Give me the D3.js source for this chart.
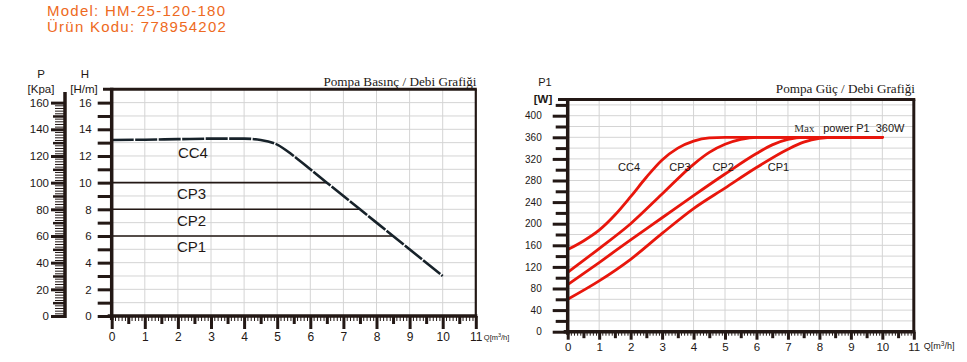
<!DOCTYPE html>
<html>
<head>
<meta charset="utf-8">
<script src="https://cdn.jsdelivr.net/npm/d3@7"></script>
<style>
  body { margin: 0; background: #fff; }
  svg { display: block; font-family: "Liberation Sans", Arial, sans-serif; }
</style>
</head>
<body>
<svg id="chart"></svg>
<script>
// ---- data ----
const qTicks = d3.range(0, 12);                 // Q [m3/h]
const headTicks = d3.range(0, 17);              // H [m]
const kpaTicks = d3.range(0, 161, 20);          // P [kPa]
const wattTicks = d3.range(0, 401, 40);         // P1 [W]

// head curve CC4 [Q, H]
const cc4Head = [[0, 13.2], [1, 13.22], [2, 13.26], [3, 13.3], [4, 13.3], [4.5, 13.2],
  [5, 12.85], [5.5, 12.0], [6, 11.0], [6.5, 10], [7.5, 8], [8.5, 6], [10, 3]];
// constant pressure modes: head and flow where they meet CC4
const cpNames = ["CP3", "CP2", "CP1"];
const cpHead = [10, 8, 6];
const cpFlowEnd = [6.5, 7.5, 8.5];

// power curves [Q, W]
const powerNames = ["CC4", "CP3", "CP2", "CP1"];
const powerCurves = [
  [[0, 152], [0.5, 168], [1, 188], [1.5, 216], [2, 250], [2.5, 286], [3, 318], [3.5, 340],
   [4, 353], [4.5, 359], [5, 360], [10, 360]],
  [[0, 110], [1, 154], [2, 200], [3, 255], [4, 310], [4.5, 332], [5, 347], [5.5, 356],
   [6, 360], [10, 360]],
  [[0, 87], [1, 128], [2, 170], [3, 211], [4, 252], [5, 292], [6, 330], [6.5, 346],
   [7, 356], [7.5, 360], [10, 360]],
  [[0, 60], [1, 94], [2, 134], [3, 182], [4, 228], [5, 266], [6, 304], [7, 338],
   [7.5, 351], [8, 358], [8.5, 360], [10, 360]]
];
const maxPower = 360;

// ---- layout ----
const width = 967, height = 362;
const ink = "#231815", grid = "#d4d4d4", red = "#e8160c";

const svg = d3.select("#chart").attr("width", width).attr("height", height);

// header
svg.append("text").attr("x", 47).attr("y", 15.5).attr("fill", "#ee6a22")
  .style("font-size", "15px").style("letter-spacing", "1.25px").text("Model: HM-25-120-180");
svg.append("text").attr("x", 47).attr("y", 31.5).attr("fill", "#ee6a22")
  .style("font-size", "15px").style("letter-spacing", "1.25px").text("Ürün Kodu: 778954202");

// ================= left chart: head / flow =================
const xL = d3.scaleLinear().domain([0, 11]).range([111.7, 475.8]);
const yH = d3.scaleLinear().domain([0, 17]).range([316, 89.3]);
const yP = d3.scaleLinear().domain([0, 170]).range([316, 89.3]);

const left = svg.append("g");

// grid
left.append("g").selectAll("line").data(d3.range(1, 11)).join("line")
  .attr("x1", d => xL(d)).attr("x2", d => xL(d))
  .attr("y1", yH(0)).attr("y2", yH(17))
  .attr("stroke", grid).attr("stroke-width", 1);
left.append("g").selectAll("line").data(d3.range(1, 17)).join("line")
  .attr("x1", xL(0)).attr("x2", xL(11))
  .attr("y1", d => yH(d)).attr("y2", d => yH(d))
  .attr("stroke", grid).attr("stroke-width", 1);

// CP lines
left.append("g").selectAll("line").data(cpHead).join("line")
  .attr("x1", xL(0)).attr("x2", (d, i) => xL(cpFlowEnd[i]))
  .attr("y1", d => yH(d)).attr("y2", d => yH(d))
  .attr("stroke", ink).attr("stroke-width", 1.6);

// CC4 head curve
left.append("path").datum(cc4Head)
  .attr("fill", "none").attr("stroke", "#17222a").attr("stroke-width", 2.6)
  .attr("stroke-dasharray", "22 1.5")
  .attr("d", d3.line().x(d => xL(d[0])).y(d => yH(d[1])).curve(d3.curveMonotoneX));

// curve labels
left.append("text").attr("x", xL(2.0)).attr("y", yH(13.2) + 18.5)
  .attr("fill", ink).style("font-size", "15px").text("CC4");
left.append("g").selectAll("text").data(cpNames).join("text")
  .attr("x", xL(1.97)).attr("y", (d, i) => yH(cpHead[i]) + 16.3)
  .attr("fill", ink).style("font-size", "15px").text(d => d);

// frame
left.append("line").attr("x1", 103).attr("x2", xL(11) + 1).attr("y1", yH(17)).attr("y2", yH(17))
  .attr("stroke", ink).attr("stroke-width", 3);
left.append("line").attr("x1", xL(11)).attr("x2", xL(11)).attr("y1", yH(17)).attr("y2", yH(0))
  .attr("stroke", ink).attr("stroke-width", 2.2);

// H axis
const hAxis = left.append("g").attr("transform", `translate(${xL(0)},0)`)
  .call(d3.axisLeft(yH).tickValues(headTicks).tickSize(14).tickPadding(6)
    .tickFormat(d => d % 2 === 0 ? d : ""));
hAxis.select(".domain").remove();
hAxis.selectAll("line").attr("stroke", ink).attr("stroke-width", 3);
hAxis.selectAll("text").attr("fill", ink).style("font-size", "11.5px").style("font-family", "Liberation Sans");
left.append("line").attr("x1", xL(0)).attr("x2", xL(0)).attr("y1", yH(17) - 1.5).attr("y2", yH(0) + 4)
  .attr("stroke", ink).attr("stroke-width", 3.5);

// P axis (ruler)
const pX = 65;
const pMinor = left.append("g").attr("transform", `translate(${pX},0)`)
  .call(d3.axisLeft(yP).tickValues(d3.range(0, 161, 2)).tickSize(10).tickFormat(""));
pMinor.select(".domain").remove();
pMinor.selectAll("line").attr("stroke", ink).attr("stroke-width", 1);
const pMid = left.append("g").attr("transform", `translate(${pX},0)`)
  .call(d3.axisLeft(yP).tickValues(d3.range(10, 161, 20)).tickSize(12).tickFormat(""));
pMid.select(".domain").remove();
pMid.selectAll("line").attr("stroke", ink).attr("stroke-width", 2.5);
const pAxis = left.append("g").attr("transform", `translate(${pX},0)`)
  .call(d3.axisLeft(yP).tickValues(kpaTicks).tickSize(14).tickPadding(2));
pAxis.select(".domain").remove();
pAxis.selectAll("line").attr("stroke", ink).attr("stroke-width", 3);
pAxis.selectAll("text").attr("fill", ink).style("font-size", "11.5px").style("font-family", "Liberation Sans");
left.append("line").attr("x1", pX).attr("x2", pX).attr("y1", 92).attr("y2", yP(0) + 2)
  .attr("stroke", ink).attr("stroke-width", 3.5);

// x axis
function flowAxis(g, x, y0, big, half, small, pad, fs) {
  const minor = g.append("g").attr("transform", `translate(0,${y0})`)
    .call(d3.axisBottom(x).tickValues(d3.range(0, 111).filter(i => i % 5 !== 0).map(i => i / 10))
      .tickSize(small).tickFormat(""));
  minor.select(".domain").remove();
  minor.selectAll("line").attr("stroke", ink).attr("stroke-width", 1);
  const halfT = g.append("g").attr("transform", `translate(0,${y0})`)
    .call(d3.axisBottom(x).tickValues(d3.range(0.5, 11, 1)).tickSize(half).tickFormat(""));
  halfT.select(".domain").remove();
  halfT.selectAll("line").attr("stroke", ink).attr("stroke-width", 3);
  const major = g.append("g").attr("transform", `translate(0,${y0})`)
    .call(d3.axisBottom(x).tickValues(qTicks).tickSize(big).tickPadding(pad));
  major.select(".domain").remove();
  major.selectAll("line").attr("stroke", ink).attr("stroke-width", 3);
  major.selectAll("text").attr("fill", ink).style("font-size", fs).style("font-family", "Liberation Sans");
  g.append("line").attr("x1", x(0) - 4).attr("x2", x(11) + 1.5).attr("y1", y0).attr("y2", y0)
    .attr("stroke", ink).attr("stroke-width", 3.5);
}
flowAxis(left, xL, yH(0), 13, 8, 5, 3, "12px");
left.append("text").attr("x", xL(11) + 8).attr("y", yH(0) + 23.5).attr("fill", ink)
  .style("font-size", "7.5px").html("Q[m<tspan dy='-3' font-size='5.5'>3</tspan><tspan dy='3'>/h]</tspan>");

// axis headers
const hdr = [["P", 41, 78], ["[Kpa]", 41, 93], ["H", 85, 78], ["[H/m]", 84, 93]];
left.selectAll(".hdr").data(hdr).join("text")
  .attr("x", d => d[1]).attr("y", d => d[2]).attr("text-anchor", "middle")
  .attr("fill", ink).style("font-size", "11.5px").text(d => d[0]);
left.append("text").attr("x", 476.5).attr("y", 86).attr("text-anchor", "end")
  .attr("fill", ink).style("font-family", "Liberation Serif").style("font-size", "13.2px")
  .text("Pompa Basınç / Debi Grafiği");

// ================= right chart: power / flow =================
const xR = d3.scaleLinear().domain([0, 11]).range([567.7, 913.8]);
const yW = d3.scaleLinear().domain([0, 430]).range([331.7, 99.5]);

const right = svg.append("g");

right.append("g").selectAll("line").data(d3.range(1, 11)).join("line")
  .attr("x1", d => xR(d)).attr("x2", d => xR(d))
  .attr("y1", yW(0)).attr("y2", yW(430))
  .attr("stroke", grid).attr("stroke-width", 1);
right.append("g").selectAll("line").data(d3.range(20, 421, 20)).join("line")
  .attr("x1", xR(0)).attr("x2", xR(11))
  .attr("y1", d => yW(d)).attr("y2", d => yW(d))
  .attr("stroke", grid).attr("stroke-width", 1);

// power curves
right.append("g").selectAll("path").data(powerCurves).join("path")
  .attr("fill", "none").attr("stroke", red).attr("stroke-width", 2.8)
  .attr("stroke-linecap", "round")
  .attr("d", d3.line().x(d => xR(d[0])).y(d => yW(d[1])).curve(d3.curveMonotoneX));

// curve labels
const powerLabelQ = [1.6, 3.23, 4.6, 6.36];
right.append("g").selectAll("text").data(powerNames).join("text")
  .attr("x", (d, i) => xR(powerLabelQ[i])).attr("y", yW(298))
  .attr("fill", ink).style("font-size", "11px").text(d => d);
right.append("text").attr("x", xR(7.2)).attr("y", yW(maxPower) - 5)
  .attr("fill", "#333").style("font-family", "Liberation Serif").style("font-size", "11px").text("Max");
right.append("text").attr("x", xR(8.12)).attr("y", yW(maxPower) - 5)
  .attr("fill", ink).style("font-size", "11px").style("white-space", "pre")
  .text(`power P1  ${maxPower}W`);

// frame
right.append("line").attr("x1", 558).attr("x2", xR(11) + 1.5).attr("y1", yW(430)).attr("y2", yW(430))
  .attr("stroke", ink).attr("stroke-width", 3);
right.append("line").attr("x1", xR(11)).attr("x2", xR(11)).attr("y1", yW(430)).attr("y2", yW(0))
  .attr("stroke", ink).attr("stroke-width", 3);

// W axis
const wMinor = right.append("g").attr("transform", `translate(${xR(0)},0)`)
  .call(d3.axisLeft(yW).tickValues(d3.range(20, 421, 40)).tickSize(12).tickFormat(""));
wMinor.select(".domain").remove();
wMinor.selectAll("line").attr("stroke", ink).attr("stroke-width", 3);
const wAxis = right.append("g").attr("transform", `translate(${xR(0)},0)`)
  .call(d3.axisLeft(yW).tickValues(wattTicks).tickSize(15).tickPadding(11));
wAxis.select(".domain").remove();
wAxis.selectAll("line").attr("stroke", ink).attr("stroke-width", 3);
wAxis.selectAll("text").attr("fill", ink).style("font-size", "10px").style("font-family", "Liberation Sans");
right.append("line").attr("x1", xR(0)).attr("x2", xR(0)).attr("y1", yW(430) - 1.5).attr("y2", yW(0) + 3)
  .attr("stroke", ink).attr("stroke-width", 3.5);

flowAxis(right, xR, yW(0), 8, 6.5, 4, 3, "11.5px");
right.append("text").attr("x", xR(11) + 10).attr("y", yW(0) + 17.5).attr("fill", ink)
  .style("font-size", "9px").html("Q[m<tspan dy='-3' font-size='6.5'>3</tspan><tspan dy='3'>/h]</tspan>");

right.append("text").attr("x", 545).attr("y", 86).attr("text-anchor", "middle")
  .attr("fill", ink).style("font-size", "11px").text("P1");
right.append("text").attr("x", 543).attr("y", 103).attr("text-anchor", "middle")
  .attr("fill", ink).style("font-size", "11.5px").style("font-weight", "bold").text("[W]");
right.append("text").attr("x", 915).attr("y", 93).attr("text-anchor", "end")
  .attr("fill", ink).style("font-family", "Liberation Serif").style("font-size", "13.2px")
  .text("Pompa Güç / Debi Grafiği");
</script>
</body>
</html>
